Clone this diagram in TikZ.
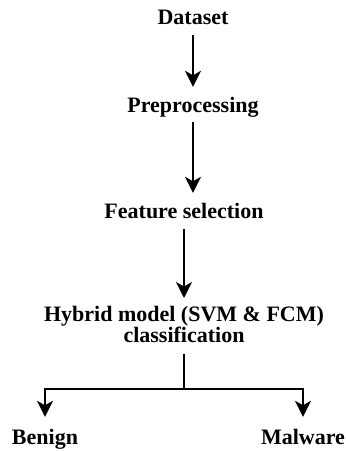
\documentclass[tikz,border=0pt]{standalone}
\usepackage{fontspec}
\setmainfont{Liberation Serif}
\usetikzlibrary{arrows.meta}
\begin{document}
\begin{tikzpicture}[x=1pt,y=1pt,
  lbl/.style={inner sep=0pt, font=\bfseries\fontsize{22}{20}\selectfont, text height=15pt, text depth=5pt, anchor=base},
  hyb/.style={inner sep=0pt, font=\bfseries\fontsize{22}{20}\selectfont, align=center, anchor=north},
  flow/.style={line width=1.7pt, -{Stealth[length=16pt,width=16pt,inset=4.5pt]}},
  link/.style={line width=1.7pt}]
\useasboundingbox (0,0) rectangle (346,451);
\node[lbl] (ds) at (193,426) {Dataset};
\node[lbl] (pp) at (193,338) {Preprocessing};
\node[lbl] (fs) at (184,232) {Feature selection};
\node[hyb] (hy) at (184,145) {Hybrid model (SVM \& FCM)\\classification};
\node[lbl] (bn) at (45,6) {Benign};
\node[lbl] (mw) at (303,6) {Malware};
\coordinate (j) at (184,62);
\draw[flow, shorten <=5pt, shorten >=11pt] (ds.south) -- (pp.north);
\draw[flow, shorten <=4pt, shorten >=11pt] (pp.south) -- (pp.south |- fs.north);
\draw[flow, shorten <=5pt, shorten >=8pt] (fs.south) -- (hy.north);
\draw[link, shorten <=11pt] (hy.south) -- (j);
\draw[flow, shorten >=13pt] (j) -| (bn.north);
\draw[flow, shorten >=13pt] (j) -| (mw.north);
\end{tikzpicture}
\end{document}
